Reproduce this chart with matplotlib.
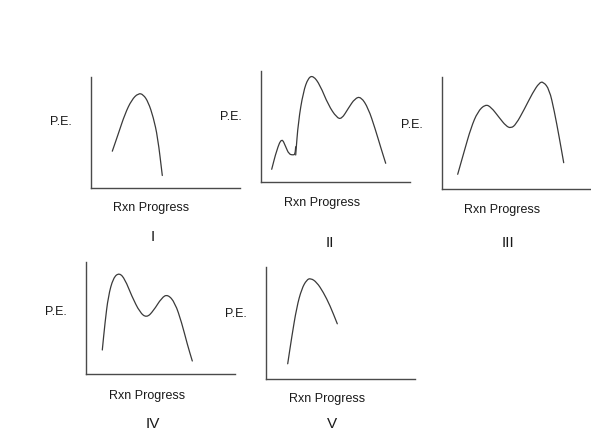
import matplotlib
matplotlib.use("Agg")
import matplotlib.pyplot as plt
from matplotlib.path import Path
from matplotlib.patches import PathPatch

plt.rcParams['font.family'] = ['Liberation Sans', 'DejaVu Sans']

W, H = 591, 437

# curve points (x = progress, y = P.E., in pixels of each panel)
prog_1 = [21.3, 27.3, 34.0, 40.7, 47.3, 52.3, 57.3, 62.3, 66.7, 71.3]
pe_1 = [36.3, 53.7, 73.7, 87.7, 94.3, 93.0, 85.3, 70.3, 50.3, 12.0]

prog_2a = [10.7, 15.7, 20.7, 24.7, 28.0, 32.3, 34.0, 34.7]
pe_2a = [12.7, 32.0, 44.3, 35.3, 27.7, 27.0, 27.7, 35.3]
prog_2b = [34.7, 37.3, 42.3, 47.3, 52.3, 59.0, 67.3, 75.7, 80.7, 87.3, 94.0, 100.0,
           107.3, 114.0, 120.0, 124.7]
pe_2b = [27.0, 60.3, 90.3, 104.3, 106.3, 97.0, 77.0, 64.3, 63.0, 73.7, 83.7, 85.3,
         73.7, 53.7, 33.7, 18.7]

prog_3 = [15.7, 22.3, 29.0, 35.7, 43.3, 49.0, 57.3, 64.0, 69.0, 74.0, 82.3, 90.7,
          97.3, 101.3, 107.3, 112.3, 117.3, 121.7]
pe_3 = [14.7, 38.0, 61.3, 77.3, 84.7, 82.0, 71.3, 63.0, 60.7, 64.7, 79.7, 96.3,
        106.3, 107.3, 99.7, 78.0, 51.3, 26.3]

prog_4 = [16.3, 19.0, 22.3, 27.3, 33.3, 39.0, 45.7, 54.0, 60.7, 67.3, 75.7, 81.7,
          89.0, 95.7, 101.3, 106.3]
pe_4 = [24.0, 51.3, 78.0, 96.3, 101.3, 94.7, 78.0, 61.3, 56.3, 63.0, 76.3, 79.7,
        71.3, 51.3, 29.7, 13.0]

prog_5 = [21.7, 25.7, 30.7, 35.7, 40.7, 44.7, 50.7, 57.3, 64.0, 71.3]
pe_5 = [14.7, 41.3, 71.3, 89.7, 98.7, 100.3, 96.3, 86.3, 73.0, 54.7]

numerals = ['I', 'II', 'III', 'IV', 'V']
curves = [
    [(prog_1, pe_1)],
    [(prog_2a, pe_2a), (prog_2b, pe_2b)],
    [(prog_3, pe_3)],
    [(prog_4, pe_4)],
    [(prog_5, pe_5)],
]

# panel frames in pixels: left, top, width, bottom
frames = [(91, 77, 149, 187.5), (261, 71, 149, 182), (442, 77, 149, 189),
          (86, 262, 149, 374), (266, 267, 149, 378.5)]
pe_pos = [(61, 122), (231, 117), (412, 125), (56, 312), (236, 314)]
rxn_pos = [(151, 208), (322, 203), (502, 210), (147, 396), (327, 399)]
num_pos = [(153, 237), (330, 243), (508, 243), (153, 424), (332, 424)]

fig = plt.figure(figsize=(W / 100, H / 100), dpi=100)
fig.patch.set_facecolor('white')

axis_col = '#4a4a4a'
line_col = '#3a3a3a'
text_col = '#1a1a1a'

def fx(x):
    return x / W

def fy(y):
    return 1 - y / H

def smooth_path(xs, ys):
    # quadratic bezier through midpoints, read points act as control points
    pts = list(zip(xs, ys))
    verts = [pts[0]]
    codes = [Path.MOVETO]
    if len(pts) < 3:
        verts.append(pts[-1])
        codes.append(Path.LINETO)
        return Path(verts, codes)
    mid = lambda a, b: ((a[0] + b[0]) / 2, (a[1] + b[1]) / 2)
    verts.append(mid(pts[0], pts[1]))
    codes.append(Path.LINETO)
    for k in range(1, len(pts) - 1):
        verts += [pts[k], mid(pts[k], pts[k + 1])]
        codes += [Path.CURVE3, Path.CURVE3]
    verts.append(pts[-1])
    codes.append(Path.LINETO)
    return Path(verts, codes)

for i in range(5):
    left, top, w, bottom = frames[i]
    h = bottom - top
    ax = fig.add_axes([fx(left), fy(bottom), w / W, h / H])
    ax.set_xlim(0, w)
    ax.set_ylim(0, h)
    for s in ['top', 'right']:
        ax.spines[s].set_visible(False)
    for s in ['left', 'bottom']:
        ax.spines[s].set_color(axis_col)
        ax.spines[s].set_linewidth(1.0)
    ax.set_xticks([])
    ax.set_yticks([])
    ax.patch.set_alpha(0)
    for xs, ys in curves[i]:
        ax.add_patch(PathPatch(smooth_path(xs, ys), facecolor='none',
                               edgecolor=line_col, lw=0.9, capstyle='round'))

    fig.text(fx(pe_pos[i][0]), fy(pe_pos[i][1]), 'P.E.', fontsize=9,
             color=text_col, ha='center', va='center')
    fig.text(fx(rxn_pos[i][0]), fy(rxn_pos[i][1]), 'Rxn Progress', fontsize=9,
             color=text_col, ha='center', va='center')
    fig.text(fx(num_pos[i][0]), fy(num_pos[i][1]), numerals[i], fontsize=11,
             color=text_col, ha='center', va='center')

fig.savefig('out.png', dpi=100, facecolor='white')
